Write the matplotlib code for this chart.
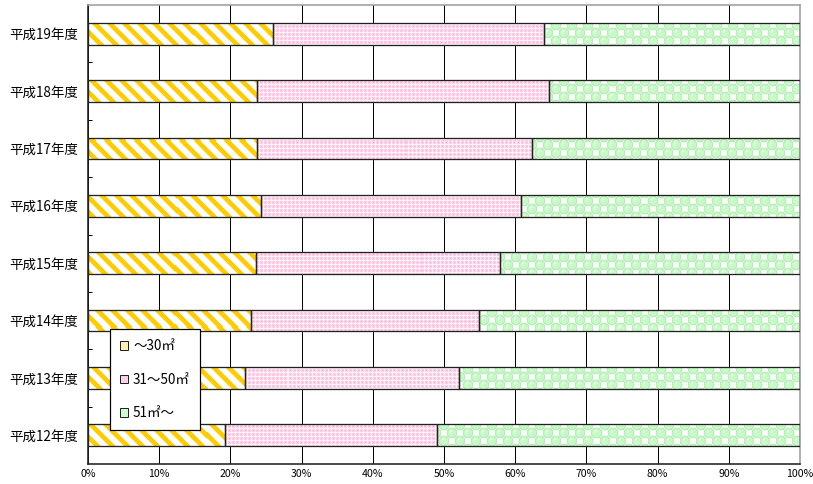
import matplotlib
matplotlib.use("Agg")
import matplotlib.pyplot as plt
import matplotlib.patches as mpatches
from matplotlib.colors import to_rgb
from matplotlib.ticker import FixedLocator, FuncFormatter
import numpy as np

DPI = 100
W, H = 813, 484
AX_L, AX_R, AX_T, AX_B = 88, 800, 5, 464   # axes box in pixels


def px(v):
    """Convert a size in pixels to points at the figure dpi."""
    return v * 72.0 / DPI


plt.rcParams['font.family'] = ['Noto Sans CJK JP', 'DejaVu Sans']

# ---- data (percent share by floor area) ----
years = ['平成12年度', '平成13年度', '平成14年度', '平成15年度',
         '平成16年度', '平成17年度', '平成18年度', '平成19年度']
under_30 = [19.3, 22.0, 22.9, 23.6, 24.3, 23.7, 23.7, 26.0]
from_31_to_50 = [29.7, 30.1, 32.0, 34.3, 36.5, 38.7, 41.0, 38.0]
over_51 = [51.0, 47.9, 45.1, 42.1, 39.2, 37.6, 35.3, 36.0]
series_labels = ['～30㎡', '31～50㎡', '51㎡～']
x_ticks = [0, 10, 20, 30, 40, 50, 60, 70, 80, 90, 100]


# ---- pixel fill textures (one texel per screen pixel of the axes) ----
def blend(mask, fg, bg):
    fg, bg = np.array(to_rgb(fg)), np.array(to_rgb(bg))
    m = mask[..., None]
    return m * fg + (1 - m) * bg


def stripe_texture(h, w, period=15.0, frac=0.44):
    r, c = np.mgrid[0:h, 0:w]
    t = np.mod(c - r, period)
    # soft edges on the stripes (distance measured in pixels)
    width = frac * period
    m = np.clip(np.minimum(t + 0.5, width - t + 0.5), 0, 1)
    return blend(m, '#FFCC00', '#FFFFFF')


def dot_texture(h, w):
    r, c = np.mgrid[0:h, 0:w]
    m = ((r % 4) < 3) & ((c % 4) < 3)
    core = ((r % 4) == 1) & ((c % 4) == 1)
    img = blend(m.astype(float), '#FFCDE6', '#FFF2F8')
    img[core] = to_rgb('#FFAAD4')
    return img


def bubble_texture(h, w, cell=8):
    r, c = np.mgrid[0:h, 0:w]
    i, j = r // cell, c // cell
    dr = (r % cell) - (cell - 1) / 2
    dc = (c % cell) - (cell - 1) / 2
    on = ((i + j) % 2) == 0
    # each "on" cell carries a bubble that spills a little into its neighbours
    d = np.full(r.shape, np.inf)
    for di in (-1, 0, 1):
        for dj in (-1, 0, 1):
            dd = np.hypot(dr - di * cell, dc - dj * cell)
            src_on = (((i + di) + (j + dj)) % 2) == 0
            d = np.where(src_on, np.minimum(d, dd), d)
    radius = cell * 0.68
    disc = np.clip(radius - d + 0.5, 0, 1)
    img = blend(disc, '#C8FAC8', '#FFFFFF')
    rim = np.abs(d - (radius - 0.7)) < 0.5
    img[rim] = to_rgb('#B6F0B6')
    hi = on & (np.hypot(dr + 1.6, dc + 1.2) < 1.3)
    img[hi] = to_rgb('#E4FFE4')
    return img


th, tw = AX_B - AX_T, AX_R - AX_L
textures = [stripe_texture(th, tw), dot_texture(th, tw), bubble_texture(th, tw)]
legend_faces = ['#FFF0B8', '#FFD2E8', '#D2FAD2']

fig = plt.figure(figsize=(W / DPI, H / DPI), dpi=DPI)
ax = fig.add_axes([AX_L / W, 1 - AX_B / H, tw / W, th / H])

y = np.arange(len(years))
bar_h = 0.38
xlim = (0, 100)
ylim = (-0.5, len(years) - 0.5)
left = np.zeros(len(years))
for vals, tex in zip([under_30, from_31_to_50, over_51], textures):
    vals = np.asarray(vals, dtype=float)
    bars = ax.barh(y, vals, left=left, height=bar_h, facecolor='none',
                   edgecolor='#222222', linewidth=px(1.3), zorder=3)
    for patch in bars:
        im = ax.imshow(tex, extent=(xlim[0], xlim[1], ylim[0], ylim[1]),
                       origin='upper', aspect='auto', interpolation='nearest',
                       zorder=2)
        im.set_clip_path(patch)
    left += vals

# ---- axes ----
ax.set_xlim(*xlim)
ax.set_ylim(*ylim)
ax.set_xticks(x_ticks)
ax.xaxis.set_major_formatter(FuncFormatter(lambda v, _: f'{int(round(v))}%'))
ax.set_yticks(y)
ax.set_yticklabels(years)
ax.yaxis.set_minor_locator(FixedLocator(np.arange(0.5, len(years) - 1, 1.0)))

ax.tick_params(axis='x', length=0, pad=px(5), labelsize=px(10.5))
ax.tick_params(axis='y', which='major', length=0, pad=px(10), labelsize=px(13.5))
ax.tick_params(axis='y', which='minor', direction='in', length=px(4),
               width=px(1), color='black')

ax.set_axisbelow(True)
ax.xaxis.grid(True, color='black', linewidth=px(1))

for side in ('left', 'bottom'):
    ax.spines[side].set_color('#222222')
    ax.spines[side].set_linewidth(px(1.6))
for side in ('top', 'right'):
    ax.spines[side].set_color('#A0A0A0')
    ax.spines[side].set_linewidth(px(1.6))

# ---- legend ----
handles = [mpatches.Patch(facecolor=fc, edgecolor='#222222', linewidth=px(1))
           for fc in legend_faces]
leg = ax.legend(handles, series_labels, loc='upper left',
                bbox_to_anchor=(0.031, 0.294), frameon=True, fancybox=False,
                edgecolor='black', framealpha=1, borderpad=0.75,
                labelspacing=1.45, handlelength=0.6, handleheight=0.6,
                handletextpad=0.35, borderaxespad=0, prop={'size': px(13.5)})
leg.get_frame().set_linewidth(px(1.2))
leg.set_zorder(5)

fig.savefig('out.png', dpi=DPI)
